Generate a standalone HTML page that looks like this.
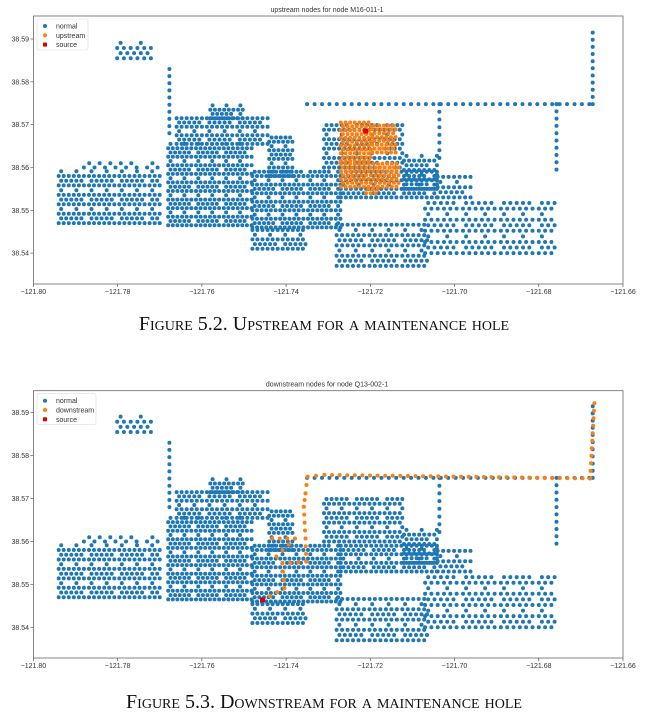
<!DOCTYPE html>
<html><head><meta charset="utf-8">
<style>
html,body{margin:0;padding:0;background:#fff;width:648px;height:727px;overflow:hidden}
svg{display:block;position:absolute;left:0;top:0}
.t{font-family:"Liberation Sans",sans-serif;font-size:7px;fill:#333}
.cap{position:absolute;left:0;width:648px;text-align:center;font-family:"Liberation Serif",serif;font-size:20px;font-variant:small-caps;color:#111}
</style></head>
<body>
<svg id="s" width="648" height="727"></svg>
<div class="cap" style="top:313px">Figure 5.2. Upstream for a maintenance hole</div>
<div class="cap" style="top:691px">Figure 5.3. Downstream for a maintenance hole</div>
<script>
// network blocks
const blockLon0 = [-121.794,-121.768,-121.766,-121.758,-121.744,-121.748,-121.748,-121.727,-121.731,-121.712,-121.704,-121.728,-121.707,-121.7801,-121.788];
const blockLon1 = [-121.770,-121.748,-121.744,-121.750,-121.7385,-121.727,-121.735,-121.704,-121.712,-121.704,-121.696,-121.706,-121.676,-121.772,-121.770];
const blockLat0 = [38.547,38.5465,38.5655,38.5715,38.558,38.546,38.541,38.553,38.560,38.555,38.553,38.537,38.540,38.5855,38.560];
const blockLat1 = [38.5595,38.566,38.5715,38.575,38.5675,38.5595,38.546,38.5595,38.5705,38.5635,38.558,38.547,38.552,38.5900,38.561];
const blockLonStep = [0.0012,0.0011,0.0012,0.0011,0.0011,0.0011,0.0012,0.0012,0.0012,0.0012,0.0013,0.0013,0.0015,0.0016,0.0025];
const blockLatStep = [0.0011,0.001,0.001,0.001,0.001,0.001,0.0011,0.001,0.0011,0.0011,0.0012,0.0012,0.0013,0.0012,0.001];
// pipeline lines (normal)
const pipeLons = [[-121.735,-121.668],[-121.6672,-121.6672],[-121.7036,-121.7036],[-121.6758,-121.6758],[-121.7677,-121.7677]];
const pipeLats = [[38.5748,38.5748],[38.5748,38.5915],[38.5748,38.5622],[38.5748,38.5595],[38.583,38.568]];
// upstream blocks (chart 1)
const upLon0 = [-121.727,-121.727,-121.7195,-121.721];
const upLon1 = [-121.713,-121.7195,-121.714,-121.718];
const upLat0 = [38.5555,38.5615,38.5635,38.554];
const upLat1 = [38.5615,38.571,38.5705,38.5555];
const upSource = [-121.7211,38.5685];
// downstream path (chart 2)
const downLons = [-121.7456,-121.7404,-121.7409,-121.7352,-121.7354,-121.7358,-121.7354,-121.7349,-121.7309,-121.6678,-121.6668];
const downLats = [38.5464,38.5491,38.5549,38.5553,38.5607,38.5681,38.5712,38.5751,38.5755,38.5747,38.5922];
const downBranchLons = [-121.7433,-121.7379,-121.7423];
const downBranchLats = [38.5607,38.5607,38.5565];
const downSource = [-121.7456,38.5464];
const xTicks = [-121.80,-121.78,-121.76,-121.74,-121.72,-121.70,-121.68,-121.66];
const yTicks = [38.54,38.55,38.56,38.57,38.58,38.59];

const NS='http://www.w3.org/2000/svg';
const svg=document.getElementById('s');
function mk(t,a,p){const e=document.createElementNS(NS,t);for(const k in a)e.setAttribute(k,a[k]);(p||svg).appendChild(e);return e;}
function chart(cfg){
  const X=lon=>33.4+(lon+121.80)/0.14*589.6;
  const Y=lat=>cfg.y59+(38.59-lat)*cfg.k;
  const g=mk('g',{});
  
  
  const tt=mk('text',{x:327,y:cfg.top-4,'text-anchor':'middle',class:'t','font-size':'9'},g);
  tt.textContent=cfg.title;
  
  
  const dot=(lon,lat,c,par)=>mk('circle',{cx:X(lon).toFixed(1),cy:Y(lat).toFixed(1),r:2,fill:c},par);
  const normal=mk('g',{},g);
  
  
  for(let i=0;i<blockLon0.length;i++){
    let row=0;
    for(let la=blockLat0[i];la<=blockLat1[i];la+=blockLatStep[i],row++){
      const off=(row%2)*blockLonStep[i]*0.5;
      let col=0;
      for(let lo=blockLon0[i]+off;lo<=blockLon1[i];lo+=blockLonStep[i],col++){
        if((row%4===3 && col%3!==0)||(col%6===5 && row%2===1)) continue;
        dot(lo,la,'#1f77b4',normal);
      }
    }
  }
  for(let i=0;i<pipeLons.length;i++) linePts(pipeLons[i],pipeLats[i],'#1f77b4',normal);
  function linePts(lons,lats,c,par){
    for(let j=0;j<lons.length-1;j++){
      const dx=lons[j+1]-lons[j],dy=lats[j+1]-lats[j];
      const n=Math.max(1,Math.round(Math.hypot(X(lons[j+1])-X(lons[j]),Y(lats[j+1])-Y(lats[j]))/7.5));
      for(let s=0;s<=n;s++) dot(lons[j]+dx*s/n,lats[j]+dy*s/n,c,par);
    }
  }
  const hi=mk('g',{},g);
  
  
  if(cfg.kind==='upstream'){
    for(let i=0;i<upLon0.length;i++){
      let row=0;
      for(let la=upLat0[i];la<=upLat1[i];la+=0.0009,row++)
        for(let lo=upLon0[i]+(row%2)*0.0005;lo<=upLon1[i];lo+=0.0011) dot(lo,la,'#ff7f0e',hi);
    }
  } else {
    linePts(downLons,downLats,'#ff7f0e',hi);
    linePts(downBranchLons,downBranchLats,'#ff7f0e',hi);
  }
  const src=cfg.kind==='upstream'?upSource:downSource;
  const sq=mk('rect',{x:X(src[0])-2.5,y:Y(src[1])-2.5,width:5,height:5,fill:'#e00000'},g);
  
  
  const fr=mk('rect',{x:33.4,y:cfg.top,width:589.6,height:cfg.bottom-cfg.top,fill:'none',stroke:'#666','stroke-width':0.8},g);
  
  
  xTicks.forEach(v=>{
    mk('line',{x1:X(v),x2:X(v),y1:cfg.bottom,y2:cfg.bottom+3,stroke:'#444','stroke-width':0.6},g);
    const t=mk('text',{x:X(v),y:cfg.bottom+10,'text-anchor':'middle',class:'t'},g);
    t.textContent=(v<0?'\u2212':'')+Math.abs(v).toFixed(2);
    
    
  });
  yTicks.forEach(v=>{
    mk('line',{x1:30.4,x2:33.4,y1:Y(v),y2:Y(v),stroke:'#444','stroke-width':0.6},g);
    const t=mk('text',{x:29,y:Y(v)+2.5,'text-anchor':'end',class:'t'},g);
    t.textContent=v.toFixed(2);
    
    
  });
  const lg=mk('g',{},g);
  
  
  const top=cfg.top+3;
  mk('rect',{x:37,y:top,width:cfg.legW,height:31,rx:2,fill:'#fff',stroke:'#ddd','stroke-width':0.6},lg);
  const items=[['normal','#1f77b4','c'],[cfg.kind,'#ff7f0e','c'],['source','#e00000','s']];
  items.forEach((it,i)=>{
    const yy=top+7+i*9.3;
    if(it[2]==='c') mk('circle',{cx:45,cy:yy,r:2,fill:it[1]},lg);
    else mk('rect',{x:43,y:yy-2,width:4,height:4,fill:it[1]},lg);
    const t=mk('text',{x:56,y:yy+2.5,class:'t'},lg);
    t.textContent=it[0];
    
    
  });
}
chart({name:'upstream-chart',title:'upstream nodes for node M16-011-1',kind:'upstream',top:16,bottom:284,y59:39,k:4282,legW:51});
chart({name:'downstream-chart',title:'downstream nodes for node Q13-002-1',kind:'downstream',top:390.7,bottom:658,y59:412.7,k:4292,legW:59});
</script>
</body></html>
